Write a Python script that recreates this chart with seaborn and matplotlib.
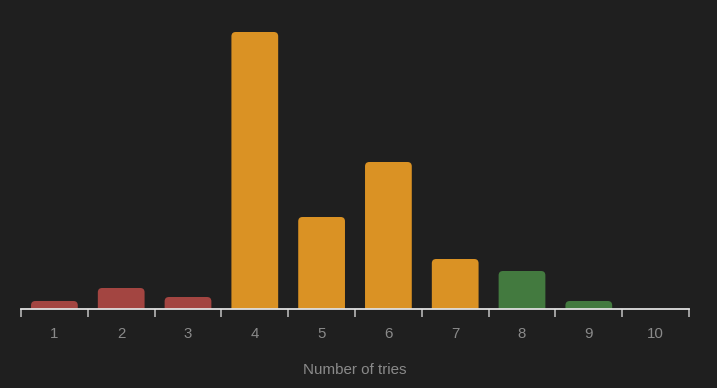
import matplotlib
matplotlib.use("Agg")
import matplotlib.pyplot as plt
from matplotlib.patches import FancyBboxPatch
import seaborn as sns
import pandas as pd

tries = ["1", "2", "3", "4", "5", "6", "7", "8", "9", "10"]
counts = [8, 21, 12, 277, 92, 147, 50, 38, 8, 0]
bar_colors = ["#a34541", "#a34541", "#a34541", "#da9224", "#da9224",
              "#da9224", "#da9224", "#437a3f", "#437a3f", "#437a3f"]

bg = "#1f1f1f"
sns.set_theme(style="dark")
plt.rcParams["font.family"] = ["Liberation Sans", "DejaVu Sans"]

fig = plt.figure(figsize=(7.17, 3.88), dpi=100, facecolor=bg)
ax = fig.add_axes([21 / 717, 1 - 309 / 388, 668 / 717, 289 / 388])
ax.set_facecolor(bg)

df = pd.DataFrame({"tries": tries, "count": counts})
sns.barplot(data=df, x="tries", y="count", hue="tries", palette=bar_colors,
            legend=False, width=0.7, ax=ax, saturation=1)

ax.set_xlim(-0.5, 9.5)
ax.set_ylim(0, 289)

# rounded bars
x_px = 668 / 10
aspect = (289 / 289) * x_px  # y units per x unit in pixels
for p in list(ax.patches):
    x, y = p.get_x(), p.get_y()
    w, h = p.get_width(), p.get_height()
    fc = p.get_facecolor()
    p.remove()
    if h <= 0:
        continue
    r = 0.065
    fb = FancyBboxPatch((x, y - 10), w, h + 10,
                        boxstyle=f"round,pad=0,rounding_size={r}",
                        mutation_aspect=aspect, facecolor=fc, edgecolor="none",
                        clip_on=True)
    ax.add_patch(fb)

for s in ["top", "right", "left"]:
    ax.spines[s].set_visible(False)
ax.spines["bottom"].set_color("#e0e0e0")
ax.spines["bottom"].set_linewidth(1.3)
ax.spines["bottom"].set_zorder(5)

ax.set_yticks([])
ax.set_xticks([i - 0.5 for i in range(11)])
ax.set_xticklabels([])
ax.set_xticks(range(10), minor=True)
ax.set_xticklabels(tries, minor=True)
ax.tick_params(axis="x", which="major", length=6, width=1.3, color="#aaaaaa",
               direction="out", bottom=True)
ax.tick_params(axis="x", which="minor", length=0, pad=13, labelsize=10.8,
               labelcolor="#8a8a8a", bottom=True)
ax.set_xlabel("Number of tries", color="#8a8a8a", fontsize=10.9, labelpad=16)
ax.set_ylabel("")
ax.grid(False)

fig.savefig("out.png", dpi=100, facecolor=bg)
